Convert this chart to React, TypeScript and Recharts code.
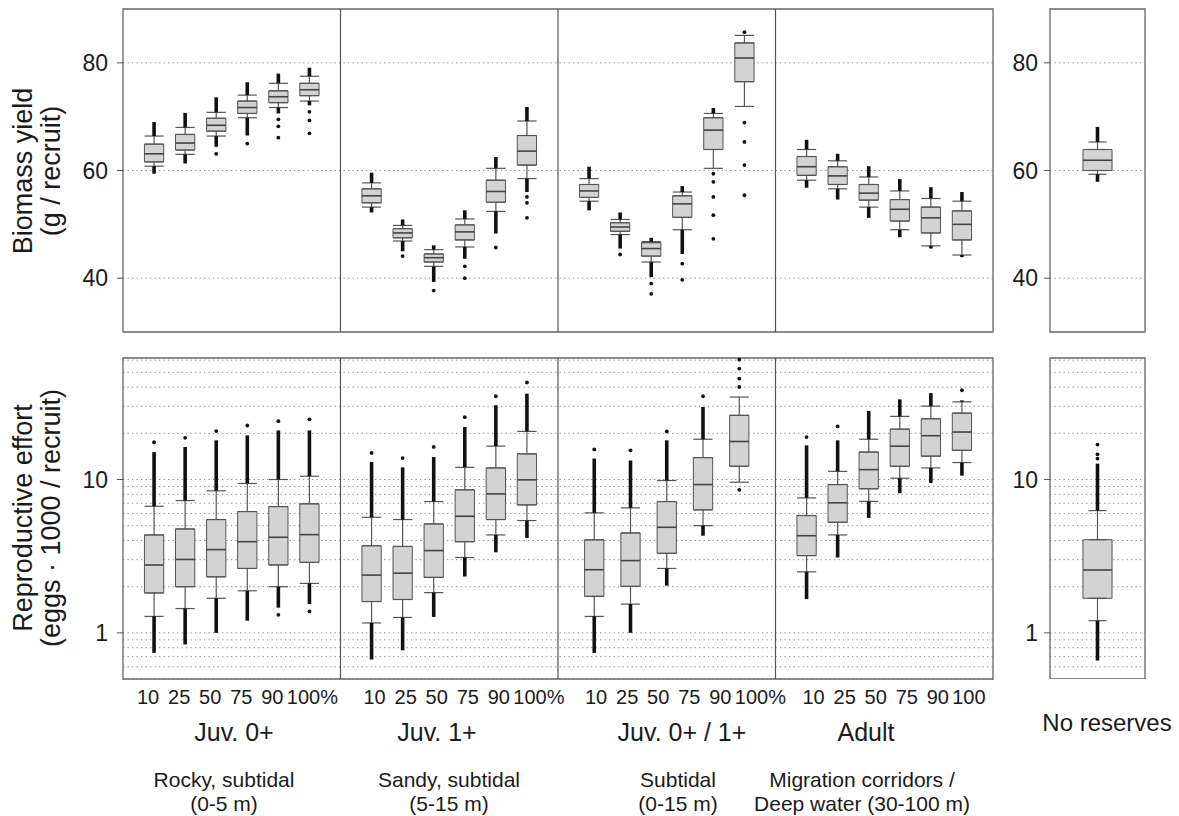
import React from 'react';
import {
  CartesianGrid,
  ComposedChart,
  ErrorBar,
  ReferenceArea,
  ReferenceLine,
  Scatter,
  XAxis,
  YAxis,
} from 'recharts';

const FONT = '"Liberation Sans", Arial, Helvetica, sans-serif';
const INK = '#1b1b1b';
const BOX_FILL = '#d3d3d3';
const BOX_LINE = '#555';

const GROUPS = ['Juv. 0+', 'Juv. 1+', 'Juv. 0+ / 1+', 'Adult'];
const HABITATS = [
  ['Rocky, subtidal', '(0-5 m)'],
  ['Sandy, subtidal', '(5-15 m)'],
  ['Subtidal', '(0-15 m)'],
  ['Migration corridors /', 'Deep water (30-100 m)'],
];
const RESERVE_SIZES = ['10', '25', '50', '75', '90', '100'];
const SIZE_SUFFIX = ['%', '%', '%', ''];

// box stats: [lower whisker, q1, median, q3, upper whisker]
const YIELD_BOXES = [
  [[60.8, 61.6, 63.1, 64.9, 66.4], [63.0, 63.8, 65.1, 66.7, 68.0], [66.4, 67.3, 68.4, 69.7, 70.8], [69.8, 70.6, 71.7, 72.9, 74.0], [71.7, 72.6, 73.7, 74.8, 76.2], [72.9, 73.9, 75.0, 76.2, 77.5]],
  [[53.2, 54.0, 55.3, 56.6, 57.7], [46.9, 47.5, 48.4, 49.2, 49.8], [42.2, 43.0, 43.8, 44.5, 45.3], [45.8, 47.1, 48.6, 49.9, 51.0], [52.4, 54.1, 56.1, 58.2, 60.4], [58.5, 61.0, 63.6, 66.5, 69.2]],
  [[54.3, 55.0, 56.2, 57.4, 58.5], [48.1, 48.7, 49.5, 50.3, 50.9], [43.0, 44.1, 45.5, 46.6, 46.8], [49.0, 51.3, 53.8, 55.3, 56.0], [60.4, 63.9, 67.5, 69.8, 70.6], [71.9, 76.5, 80.9, 83.7, 85.1]],
  [[58.2, 59.1, 60.7, 62.6, 63.9], [56.6, 57.4, 59.0, 60.7, 61.8], [53.2, 54.5, 55.8, 57.4, 58.8], [49.0, 50.6, 52.8, 54.6, 56.2], [46.0, 48.4, 51.2, 53.2, 54.8], [44.3, 47.1, 50.0, 52.5, 54.3]],
];
// end of the dense run of outliers beyond each whisker (null = none)
const YIELD_TAIL_LOW = [
  [59.4, 61.3, 64.4, 66.5, 70.6, 72.1],
  [52.2, 45.0, 39.3, 43.6, 48.3, 56.0],
  [52.6, 45.5, 40.2, 44.5, null, null],
  [56.8, 54.6, 51.2, 47.6, 45.5, 43.9],
];
const YIELD_TAIL_HIGH = [
  [69.0, 70.7, 73.6, 76.4, 78.0, 79.1],
  [59.6, 50.9, 46.1, 52.6, 62.5, 71.8],
  [60.7, 52.2, 47.5, 57.1, 71.6, null],
  [65.7, 63.1, 60.8, 58.4, 56.9, 56.0],
];
const YIELD_OUTLIERS = [
  [[], [], [63.1], [65.0], [69.5, 68.2, 66.1], [70.9, 69.3, 66.9]],
  [[], [44.1], [37.7], [42.2, 40.0], [45.7], [55.1, 54.0, 51.2]],
  [[], [44.4], [39.0, 37.1], [42.7, 39.7], [59.4, 57.9, 55.1, 51.7, 47.3], [85.7, 68.9, 65.3, 61.0, 55.4]],
  [[], [], [], [], [], []],
];

const EFFORT_BOXES = [
  [[1.28, 1.82, 2.77, 4.35, 6.69], [1.44, 2.0, 3.01, 4.76, 7.29], [1.68, 2.32, 3.49, 5.48, 8.44], [1.88, 2.63, 3.93, 6.18, 9.42], [2.0, 2.77, 4.2, 6.66, 10.0], [2.1, 2.88, 4.37, 6.94, 10.5]],
  [[1.16, 1.6, 2.38, 3.7, 5.67], [1.26, 1.65, 2.45, 3.66, 5.48], [1.83, 2.3, 3.44, 5.13, 7.18], [3.1, 3.93, 5.76, 8.57, 12.0], [4.35, 5.48, 8.06, 11.9, 16.5], [5.4, 6.83, 9.95, 14.7, 20.6]],
  [[1.28, 1.73, 2.58, 4.04, 6.06], [1.54, 2.01, 2.96, 4.48, 6.53], [2.63, 3.3, 4.88, 7.18, 9.85], [5.0, 6.34, 9.27, 13.9, 18.3], [9.6, 12.2, 17.7, 26.2, 34.5]],
  [[2.5, 3.19, 4.3, 5.82, 7.59], [4.35, 5.26, 7.05, 9.27, 11.3], [7.2, 8.7, 11.6, 15.1, 18.3], [10.2, 12.2, 16.5, 21.3, 25.8], [11.9, 14.2, 19.3, 24.9, 30.1], [12.9, 15.5, 20.4, 27.1, 32.1]],
];
const EFFORT_TAIL_LOW = [
  [0.74, 0.84, 1.0, 1.2, 1.46, 1.54],
  [0.67, 0.77, 1.27, 2.33, 3.35, 4.16],
  [0.74, 1.0, 2.03, 4.3, null],
  [1.66, 3.1, 5.62, 8.14, 9.5, 10.6],
];
const EFFORT_TAIL_HIGH = [
  [15.1, 16.3, 18.0, 19.4, 20.9, 20.9],
  [13.0, 12.0, 14.0, 22.0, 30.5, 36.3],
  [13.7, 13.3, 18.0, 29.7, null],
  [16.7, 18.0, 28.0, 33.3, 36.6, 32.8],
];
const EFFORT_OUTLIERS = [
  [[17.5], [18.7], [20.7], [22.5], [24.0, 1.31], [24.7, 1.38]],
  [[14.9], [13.8], [16.3], [25.5], [34.9], [42.9]],
  [[15.7], [15.5], [20.6], [34.9], [8.57, 40.1, 45.5, 52.9, 60.5]],
  [[18.9], [22.2], [], [], [], [38.2]],
];

// "No reserves" reference run
const NONE_YIELD = [59.3, 60.0, 61.9, 63.9, 65.3];
const NONE_YIELD_TAILS = [57.9, 68.1];
const NONE_EFFORT = [1.2, 1.68, 2.57, 4.05, 6.27];
const NONE_EFFORT_TAILS = [0.66, 12.7];
const NONE_EFFORT_OUTLIERS = [13.7, 14.6, 16.9];

const YIELD_TICKS = [40, 60, 80];
const EFFORT_TICKS = [1, 10];
const EFFORT_GRID = [0.5, 0.6, 0.7, 0.8, 0.9, 1, 2, 3, 4, 5, 6, 7, 8, 9, 10, 20, 30, 40, 50, 60];

const SLOTS = 7; // each group spans 7 slots, boxes sit inside
const TICK_VALUES = GROUPS.flatMap((_, g) => RESERVE_SIZES.map((_, i) => g * SLOTS + i + 1));
const TICK_LABELS = GROUPS.flatMap((_, g) =>
  RESERVE_SIZES.map((s, i) => (i === RESERVE_SIZES.length - 1 ? s + SIZE_SUFFIX[g] : s)),
);
const TICK_DX = [-6, 3, 7, 7];

type Box = { x: number; s: number[]; tailLo: number | null; tailHi: number | null; out: number[] };

function buildBoxes(boxes: number[][][], lo: (number | null)[][], hi: (number | null)[][], out: number[][][]): Box[] {
  const res: Box[] = [];
  boxes.forEach((grp, g) =>
    grp.forEach((s, i) => {
      res.push({
        x: g * SLOTS + ((i + 1) * SLOTS) / (grp.length + 1),
        s,
        tailLo: lo[g][i],
        tailHi: hi[g][i],
        out: out[g][i],
      });
    }),
  );
  return res;
}

const noMark = () => <g />;
const dot = (p: any) => <circle cx={p.cx} cy={p.cy} r={1.9} fill="#111" />;

function ReserveTick(props: any) {
  const { x, y, payload } = props;
  const k = TICK_VALUES.indexOf(payload.value);
  if (k < 0) return null;
  const g = Math.floor(k / RESERVE_SIZES.length);
  const label = TICK_LABELS[k];
  const dx = TICK_DX[g] + (label.endsWith('%') ? 9 : 0);
  return (
    <text x={x + dx} y={y + 25} textAnchor="middle" fontSize={20} fontFamily={FONT} fill={INK}>
      {label}
    </text>
  );
}

type PanelProps = {
  boxes: Box[];
  width: number;
  height: number;
  margin: { top: number; right: number; bottom: number; left: number };
  yAxisWidth: number;
  xDomain: [number, number];
  yDomain: [number, number];
  log?: boolean;
  yTicks: number[];
  grid: number[];
  boxHalf: number;
  capHalf: number;
  dividers: number[];
  showXTicks?: boolean;
  tickMargin: number;
};

function BoxPanel(p: PanelProps) {
  const lowWhisk = p.boxes.map((b) => ({ x: b.x, y: b.s[1], err: [b.s[1] - b.s[0], 0] }));
  const highWhisk = p.boxes.map((b) => ({ x: b.x, y: b.s[3], err: [0, b.s[4] - b.s[3]] }));
  const lowTail = p.boxes
    .filter((b) => b.tailLo != null)
    .map((b) => ({ x: b.x, y: b.s[0], err: [b.s[0] - (b.tailLo as number), 0] }));
  const highTail = p.boxes
    .filter((b) => b.tailHi != null)
    .map((b) => ({ x: b.x, y: b.s[4], err: [0, (b.tailHi as number) - b.s[4]] }));
  const outs = p.boxes.flatMap((b) => b.out.map((v) => ({ x: b.x, y: v })));

  return (
    <ComposedChart width={p.width} height={p.height} margin={p.margin}>
      <CartesianGrid vertical={false} horizontalValues={p.grid} stroke="#8c8c8c" strokeDasharray="1.3 3.2" />
      <XAxis
        type="number"
        dataKey="x"
        domain={p.xDomain}
        allowDataOverflow
        hide={!p.showXTicks}
        ticks={TICK_VALUES}
        interval={0}
        tick={<ReserveTick />}
        tickLine={false}
        axisLine={false}
        tickSize={0}
        tickMargin={0}
        height={40}
      />
      <YAxis
        type="number"
        dataKey="y"
        scale={p.log ? 'log' : 'linear'}
        domain={p.yDomain}
        allowDataOverflow
        ticks={p.yTicks}
        interval={0}
        width={p.yAxisWidth}
        axisLine={false}
        tickLine={{ stroke: '#555' }}
        tickSize={6}
        tickMargin={p.tickMargin}
        tick={{ fontSize: 23, fill: INK, fontFamily: FONT }}
      />
      {p.dividers.map((d) => (
        <ReferenceLine key={'d' + d} x={d} stroke="#555" strokeWidth={1.2} />
      ))}
      {p.boxes.map((b, k) => (
        <ReferenceArea
          key={'b' + k}
          x1={b.x - p.boxHalf}
          x2={b.x + p.boxHalf}
          y1={b.s[1]}
          y2={b.s[3]}
          fill={BOX_FILL}
          fillOpacity={1}
          stroke={BOX_LINE}
          strokeWidth={1}
        />
      ))}
      <Scatter data={lowWhisk} shape={noMark} isAnimationActive={false}>
        <ErrorBar dataKey="err" direction="y" width={p.capHalf} stroke={BOX_LINE} strokeWidth={1.2} isAnimationActive={false} />
      </Scatter>
      <Scatter data={highWhisk} shape={noMark} isAnimationActive={false}>
        <ErrorBar dataKey="err" direction="y" width={p.capHalf} stroke={BOX_LINE} strokeWidth={1.2} isAnimationActive={false} />
      </Scatter>
      <Scatter data={lowTail} shape={noMark} isAnimationActive={false}>
        <ErrorBar dataKey="err" direction="y" width={0} stroke="#111" strokeWidth={3.6} isAnimationActive={false} />
      </Scatter>
      <Scatter data={highTail} shape={noMark} isAnimationActive={false}>
        <ErrorBar dataKey="err" direction="y" width={0} stroke="#111" strokeWidth={3.6} isAnimationActive={false} />
      </Scatter>
      <Scatter data={outs} shape={dot} isAnimationActive={false} />
      {p.boxes.map((b, k) => (
        <ReferenceLine
          key={'m' + k}
          segment={[
            { x: b.x - p.boxHalf, y: b.s[2] },
            { x: b.x + p.boxHalf, y: b.s[2] },
          ]}
          stroke="#444"
          strokeWidth={1.6}
        />
      ))}
      <ReferenceArea
        x1={p.xDomain[0]}
        x2={p.xDomain[1]}
        y1={p.yDomain[0]}
        y2={p.yDomain[1]}
        fill="none"
        stroke="#666"
        strokeWidth={1.3}
      />
    </ComposedChart>
  );
}

const yieldBoxes = buildBoxes(YIELD_BOXES, YIELD_TAIL_LOW, YIELD_TAIL_HIGH, YIELD_OUTLIERS);
const effortBoxes = buildBoxes(EFFORT_BOXES, EFFORT_TAIL_LOW, EFFORT_TAIL_HIGH, EFFORT_OUTLIERS);
const noneYield: Box[] = [{ x: 0.5, s: NONE_YIELD, tailLo: NONE_YIELD_TAILS[0], tailHi: NONE_YIELD_TAILS[1], out: [] }];
const noneEffort: Box[] = [
  { x: 0.5, s: NONE_EFFORT, tailLo: NONE_EFFORT_TAILS[0], tailHi: NONE_EFFORT_TAILS[1], out: NONE_EFFORT_OUTLIERS },
];

const MAIN_X: [number, number] = [0, SLOTS * GROUPS.length];
const DIVIDERS = GROUPS.slice(1).map((_, g) => (g + 1) * SLOTS);
const YIELD_Y: [number, number] = [30, 90];
const EFFORT_Y: [number, number] = [0.5, 62];

const GROUP_X = [234, 437, 682, 866];
const HABITAT_X = [224, 449, 678, 862];

export default function App() {
  const abs = (left: number, top: number): React.CSSProperties => ({ position: 'absolute', left, top });
  return (
    <div
      style={{
        position: 'absolute',
        left: 0,
        top: 0,
        width: 1179,
        height: 816,
        background: '#fff',
        overflow: 'hidden',
        fontFamily: FONT,
      }}
    >
      <div style={abs(0, 0)}>
        <BoxPanel
          boxes={yieldBoxes}
          width={1000}
          height={345}
          margin={{ top: 9, right: 7, bottom: 13, left: 0 }}
          yAxisWidth={123}
          xDomain={MAIN_X}
          yDomain={YIELD_Y}
          yTicks={YIELD_TICKS}
          grid={YIELD_TICKS}
          boxHalf={0.31}
          capHalf={9.6}
          dividers={DIVIDERS}
          tickMargin={9}
        />
      </div>
      <div style={abs(990, 0)}>
        <BoxPanel
          boxes={noneYield}
          width={160}
          height={345}
          margin={{ top: 9, right: 5, bottom: 13, left: 0 }}
          yAxisWidth={60}
          xDomain={[0, 1]}
          yDomain={YIELD_Y}
          yTicks={YIELD_TICKS}
          grid={YIELD_TICKS}
          boxHalf={0.153}
          capHalf={9}
          dividers={[]}
          tickMargin={6}
        />
      </div>
      <div style={abs(0, 345)}>
        <BoxPanel
          boxes={effortBoxes}
          width={1000}
          height={374}
          margin={{ top: 13, right: 7, bottom: 0, left: 0 }}
          yAxisWidth={123}
          xDomain={MAIN_X}
          yDomain={EFFORT_Y}
          log
          yTicks={EFFORT_TICKS}
          grid={EFFORT_GRID}
          boxHalf={0.31}
          capHalf={9.6}
          dividers={DIVIDERS}
          showXTicks
          tickMargin={9}
        />
      </div>
      <div style={abs(990, 345)}>
        <BoxPanel
          boxes={noneEffort}
          width={160}
          height={334}
          margin={{ top: 13, right: 5, bottom: 0, left: 0 }}
          yAxisWidth={60}
          xDomain={[0, 1]}
          yDomain={EFFORT_Y}
          log
          yTicks={EFFORT_TICKS}
          grid={EFFORT_GRID}
          boxHalf={0.153}
          capHalf={9}
          dividers={[]}
          tickMargin={6}
        />
      </div>
      <svg width={1179} height={816} style={{ position: 'absolute', left: 0, top: 0, pointerEvents: 'none' }}>
        <g fill={INK} fontFamily={FONT} textAnchor="middle">
          <text transform="translate(32,171) rotate(-90)" fontSize={27}>Biomass yield</text>
          <text transform="translate(60,171) rotate(-90)" fontSize={27}>(g / recruit)</text>
          <text transform="translate(32,518) rotate(-90)" fontSize={27}>Reproductive effort</text>
          <text transform="translate(60,518) rotate(-90)" fontSize={27}>(eggs · 1000 / recruit)</text>
          {GROUPS.map((g, i) => (
            <text key={g} x={GROUP_X[i]} y={741} fontSize={25}>
              {g}
            </text>
          ))}
          <text x={1107} y={731} fontSize={24}>No reserves</text>
          {HABITATS.map((h, i) => (
            <g key={h[0]} fontSize={21}>
              <text x={HABITAT_X[i]} y={787}>{h[0]}</text>
              <text x={HABITAT_X[i]} y={811}>{h[1]}</text>
            </g>
          ))}
        </g>
      </svg>
    </div>
  );
}
